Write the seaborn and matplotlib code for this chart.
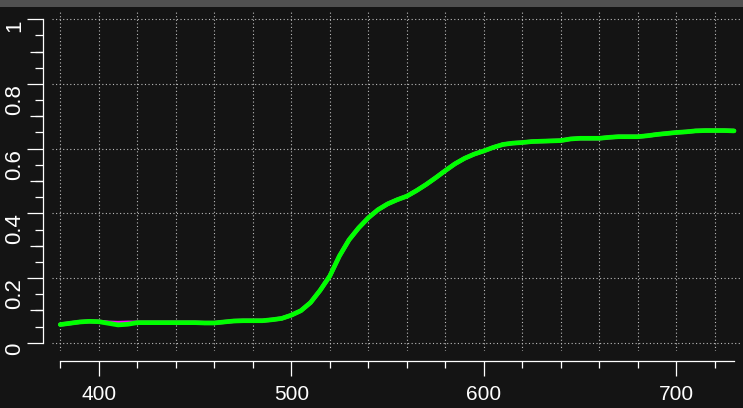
import matplotlib
matplotlib.use("Agg")
import matplotlib.pyplot as plt
import matplotlib.patches as mpatches
from matplotlib.ticker import MultipleLocator, FixedLocator
import seaborn as sns
import pandas as pd

wavelength = [380, 385, 390, 395, 400, 405, 410, 415, 420, 425, 430, 435, 440, 445, 450,
              455, 460, 465, 470, 475, 480, 485, 490, 495, 500, 505, 510, 515, 520, 525,
              530, 535, 540, 545, 550, 555, 560, 565, 570, 575, 580, 585, 590, 595, 600,
              605, 610, 615, 620, 625, 630, 635, 640, 645, 650, 655, 660, 665, 670, 675,
              680, 685, 690, 695, 700, 705, 710, 715, 720, 725, 730]
green_vals = [0.056, 0.060, 0.064, 0.066, 0.065, 0.060, 0.055, 0.057, 0.062, 0.062, 0.062,
              0.062, 0.062, 0.062, 0.062, 0.061, 0.061, 0.064, 0.067, 0.068, 0.068, 0.068,
              0.071, 0.075, 0.085, 0.099, 0.124, 0.162, 0.206, 0.268, 0.318, 0.355, 0.386,
              0.411, 0.429, 0.442, 0.453, 0.470, 0.489, 0.510, 0.532, 0.553, 0.570, 0.583,
              0.593, 0.604, 0.613, 0.617, 0.619, 0.622, 0.623, 0.624, 0.625, 0.630, 0.632,
              0.632, 0.632, 0.635, 0.637, 0.637, 0.637, 0.640, 0.644, 0.647, 0.650, 0.652,
              0.655, 0.656, 0.656, 0.656, 0.655]
magenta_vals = list(green_vals)
magenta_vals[5] = 0.062
magenta_vals[6] = 0.061
magenta_vals[7] = 0.062

x_major = [400, 500, 600, 700]
y_major = [0, 0.2, 0.4, 0.6, 0.8, 1.0]
y_major_labels = ["0", "0.2", "0.4", "0.6", "0.8", "1"]
y_mid = [0.1, 0.3, 0.5, 0.7, 0.9]

df = pd.DataFrame({"wl": wavelength, "green": green_vals, "magenta": magenta_vals})

BG = "#141414"
W, H = 743, 408
fig = plt.figure(figsize=(W / 100, H / 100), dpi=100, facecolor=BG)
fig.patches.append(mpatches.Rectangle((0, 1 - 7 / H), 1, 7 / H, transform=fig.transFigure,
                                      facecolor="#505050", edgecolor="none"))
ax = fig.add_axes([52 / W, 1 - 351 / H, (740 - 52) / W, (351 - 11) / H])
ax.set_facecolor(BG)

sns.lineplot(data=df, x="wl", y="magenta", ax=ax, color="#ff00ff", lw=3.0, zorder=3,
             solid_joinstyle="round", solid_capstyle="round")
sns.lineplot(data=df, x="wl", y="green", ax=ax, color="#00ff00", lw=3.4, zorder=4,
             solid_joinstyle="round", solid_capstyle="round")

ax.set_xlim(375.7, 733.1)
ax.set_ylim(-0.0257, 1.0257)
ax.set_xlabel("")
ax.set_ylabel("")

# grid
grid_kw = dict(color="#bcbcbc", lw=0.8, linestyle=(0, (1, 2.2)))
ax.xaxis.set_minor_locator(MultipleLocator(20))
ax.set_xticks(x_major)
ax.set_xticklabels([str(v) for v in x_major])
ax.grid(True, which="both", axis="x", **grid_kw)
ax.set_yticks(y_major)
ax.set_yticklabels(y_major_labels)
ax.yaxis.set_minor_locator(MultipleLocator(0.05))
ax.grid(True, which="major", axis="y", **grid_kw)
ax.set_axisbelow(True)

for s in ["top", "right"]:
    ax.spines[s].set_visible(False)
ax.spines["left"].set_position(("outward", 6.7))
ax.spines["bottom"].set_position(("outward", 7.2))
ax.spines["left"].set_bounds(0, 1)
ax.spines["bottom"].set_bounds(380, 730)
for s in ["left", "bottom"]:
    ax.spines[s].set_color("white")
    ax.spines[s].set_linewidth(0.9)

ax.tick_params(axis="x", which="major", length=10.8, width=0.9, color="white",
               labelcolor="white", labelsize=15, pad=6.5)
ax.tick_params(axis="x", which="minor", length=5.0, width=0.9, color="white")
ax.tick_params(axis="y", which="major", length=11.5, width=0.9, color="white",
               labelcolor="white", labelsize=16, pad=1.0)
ax.tick_params(axis="y", which="minor", length=5.8, width=0.9, color="white")
for lab in ax.get_xticklabels():
    lab.set_fontfamily(["Liberation Sans", "DejaVu Sans"])
for lab in ax.get_yticklabels():
    lab.set_fontfamily(["Liberation Sans", "DejaVu Sans"])
    lab.set_rotation(90)
    lab.set_va("top")

# medium-length y ticks at odd tenths
sec = ax.secondary_yaxis(-6.7 / 72 * 100 / (740 - 52))
sec.set_yticks(y_mid)
sec.set_yticklabels([])
sec.spines["left"].set_visible(False)
sec.tick_params(axis="y", which="major", length=9.1, width=0.9, color="white")
sec.yaxis.set_minor_locator(FixedLocator([]))

fig.savefig("out.png", dpi=100, facecolor=BG)
